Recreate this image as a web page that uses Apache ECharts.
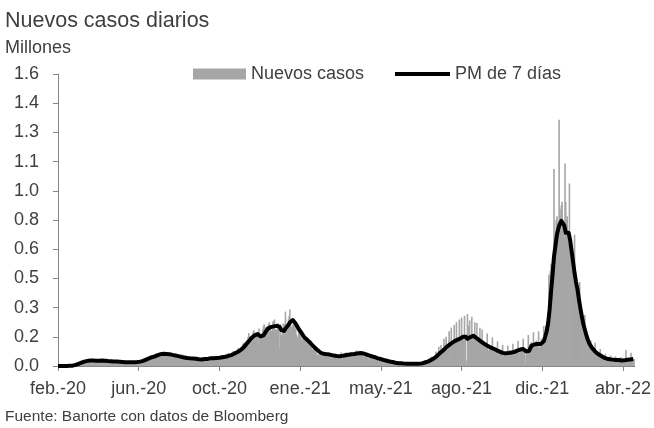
<!DOCTYPE html>
<html><head><meta charset="utf-8">
<script src="https://cdn.jsdelivr.net/npm/echarts@6/dist/echarts.min.js"></script>
<style>html,body{margin:0;padding:0;background:#fff}#c{width:654px;height:428px}</style>
</head><body><div id="c"></div>
<script>
// X axis: day index from 27-feb-2020; labels every 110 days
const tickLabels = ['feb.-20','jun.-20','oct.-20','ene.-21','may.-21','ago.-21','dic.-21','abr.-22'];
const tickDays = [0,110,220,330,440,550,660,770];

// Daily new cases (millions), one value per day, weeks starting Thursday
const dailyNewCases = [
0,0,0,0,0,0,0,
0,0,0,0,0.001,0.001,0.001,
0.001,0.001,0.001,0.002,0.003,0.004,0.006,
0.005,0.007,0.008,0.010,0.011,0.012,0.015,
0.018,0.018,0.020,0.020,0.021,0.025,0.026,
0.028,0.033,0.033,0.027,0.026,0.030,0.030,
0.033,0.033,0.031,0.027,0.026,0.026,0.030,
0.031,0.032,0.031,0.027,0.026,0.027,0.029,
0.032,0.037,0.033,0.027,0.024,0.025,0.028,
0.029,0.033,0.029,0.026,0.023,0.024,0.025,
0.028,0.029,0.026,0.021,0.021,0.023,0.025,
0.027,0.027,0.026,0.020,0.021,0.022,0.024,
0.026,0.024,0.023,0.019,0.018,0.019,0.021,
0.023,0.025,0.023,0.019,0.018,0.020,0.021,
0.022,0.023,0.022,0.018,0.017,0.019,0.022,
0.023,0.025,0.025,0.019,0.018,0.023,0.026,
0.028,0.032,0.033,0.027,0.025,0.029,0.036,
0.040,0.045,0.043,0.038,0.037,0.044,0.052,
0.055,0.054,0.045,0.045,0.047,0.055,0.063,
0.064,0.068,0.066,0.058,0.058,0.063,0.067,
0.075,0.074,0.064,0.061,0.059,0.064,0.070,
0.072,0.075,0.066,0.057,0.055,0.061,0.066,
0.068,0.068,0.060,0.048,0.047,0.052,0.055,
0.058,0.062,0.056,0.047,0.046,0.050,0.053,
0.052,0.065,0.051,0.040,0.037,0.042,0.046,
0.047,0.049,0.045,0.034,0.033,0.039,0.043,
0.046,0.049,0.044,0.035,0.032,0.040,0.038,
0.044,0.050,0.042,0.031,0.024,0.024,0.034,
0.037,0.048,0.041,0.035,0.032,0.035,0.038,
0.045,0.049,0.042,0.036,0.040,0.039,0.042,
0.045,0.055,0.046,0.034,0.035,0.044,0.040,
0.046,0.054,0.049,0.035,0.039,0.043,0.050,
0.058,0.057,0.054,0.047,0.042,0.051,0.058,
0.065,0.070,0.057,0.049,0.059,0.060,0.063,
0.074,0.083,0.081,0.061,0.066,0.074,0.080,
0.090,0.099,0.084,0.080,0.087,0.092,0.105,
0.120,0.128,0.128,0.105,0.118,0.137,0.142,
0.160,0.180,0.162,0.137,0.155,0.158,0.170,
0.185,0.196,0.178,0.141,0.164,0.172,0.182,
0.110,0.205,0.152,0.140,0.158,0.180,0.200,
0.217,0.229,0.215,0.179,0.190,0.214,0.218,
0.228,0.240,0.218,0.188,0.192,0.199,0.245,
0.240,0.255,0.200,0.192,0.200,0.205,0.235,
0.195,0.098,0.230,0.152,0.170,0.199,0.233,
0.230,0.155,0.298,0.208,0.185,0.235,0.256,
0.275,0.310,0.260,0.215,0.215,0.225,0.230,
0.235,0.240,0.200,0.172,0.145,0.160,0.185,
0.195,0.190,0.172,0.135,0.150,0.148,0.155,
0.165,0.165,0.143,0.111,0.133,0.115,0.122,
0.124,0.133,0.104,0.087,0.090,0.093,0.098,
0.103,0.099,0.086,0.064,0.053,0.064,0.069,
0.070,0.079,0.071,0.057,0.056,0.071,0.074,
0.076,0.077,0.064,0.054,0.057,0.056,0.066,
0.066,0.068,0.058,0.042,0.045,0.056,0.058,
0.063,0.064,0.052,0.037,0.046,0.053,0.060,
0.060,0.075,0.056,0.035,0.052,0.055,0.070,
0.068,0.075,0.063,0.040,0.054,0.061,0.070,
0.073,0.076,0.058,0.034,0.078,0.062,0.076,
0.081,0.086,0.062,0.047,0.071,0.069,0.077,
0.075,0.080,0.057,0.041,0.068,0.061,0.065,
0.066,0.071,0.048,0.033,0.054,0.050,0.058,
0.058,0.063,0.040,0.026,0.048,0.044,0.050,
0.047,0.050,0.032,0.020,0.037,0.034,0.040,
0.040,0.039,0.024,0.016,0.028,0.027,0.032,
0.029,0.032,0.018,0.012,0.024,0.022,0.025,
0.017,0.018,0.010,0.008,0.010,0.022,0.022,
0.017,0.018,0.010,0.008,0.024,0.015,0.014,
0.014,0.016,0.008,0.007,0.021,0.013,0.012,
0.013,0.014,0.008,0.006,0.019,0.012,0.011,
0.014,0.015,0.008,0.006,0.020,0.012,0.012,
0.016,0.018,0.009,0.007,0.010,0.022,0.018,
0.016,0.017,0.017,0.018,0.032,0.017,0.017,
0.024,0.027,0.026,0.026,0.051,0.028,0.026,
0.038,0.042,0.040,0.041,0.080,0.044,0.043,
0.060,0.105,0.060,0.062,0.115,0.068,0.072,
0.080,0.150,0.082,0.084,0.160,0.090,0.095,
0.105,0.190,0.105,0.108,0.210,0.112,0.118,
0.122,0.225,0.122,0.125,0.240,0.128,0.132,
0.135,0.255,0.135,0.138,0.265,0.142,0.146,
0.150,0.275,0.150,0.030,0.010,0.285,0.220,
0.140,0.250,0.140,0.145,0.270,0.150,0.155,
0.150,0.240,0.145,0.140,0.235,0.135,0.132,
0.130,0.210,0.125,0.122,0.200,0.116,0.112,
0.122,0.121,0.107,0.100,0.178,0.090,0.080,
0.105,0.105,0.093,0.088,0.157,0.080,0.071,
0.092,0.092,0.081,0.076,0.134,0.068,0.060,
0.079,0.079,0.069,0.065,0.115,0.059,0.053,
0.070,0.071,0.064,0.062,0.112,0.059,0.053,
0.072,0.074,0.068,0.066,0.122,0.063,0.058,
0.079,0.082,0.075,0.074,0.138,0.073,0.067,
0.090,0.093,0.085,0.081,0.149,0.077,0.070,
0.015,0.060,0.070,0.060,0.170,0.115,0.120,
0.110,0.130,0.105,0.100,0.185,0.105,0.095,
0.120,0.140,0.110,0.105,0.190,0.100,0.095,
0.130,0.150,0.115,0.110,0.220,0.150,0.200,
0.220,0.190,0.150,0.200,0.500,0.420,0.520,
0.560,0.480,0.420,0.480,1.080,0.700,0.740,
0.800,0.820,0.730,0.740,1.350,0.860,0.820,
0.880,0.900,0.790,0.760,0.700,1.110,0.900,
0.800,0.820,0.720,0.700,1.000,0.700,0.650,
0.640,0.620,0.570,0.540,0.720,0.500,0.460,
0.450,0.430,0.390,0.360,0.460,0.320,0.290,
0.275,0.260,0.230,0.215,0.280,0.185,0.170,
0.160,0.150,0.135,0.125,0.100,0.140,0.105,
0.098,0.095,0.081,0.074,0.128,0.063,0.054,
0.069,0.067,0.058,0.053,0.093,0.046,0.041,
0.052,0.050,0.042,0.039,0.067,0.034,0.030,
0.039,0.039,0.035,0.033,0.058,0.030,0.027,
0.035,0.035,0.031,0.029,0.053,0.027,0.025,
0.033,0.034,0.029,0.027,0.049,0.025,0.023,
0.030,0.031,0.029,0.029,0.088,0.028,0.026,
0.035,0.036,0.033,0.032,0.072,0.031,0.028,
0.038,0.039
];

// 7-day moving average (millions), one value every 2 days from day 0
const maStepDays = 2;
const movingAverage7d = [
0,0,0,0,0,0,0,0,0.001,0.001,
0.002,0.004,0.006,0.009,0.012,0.015,0.018,0.021,0.024,0.027,
0.028,0.029,0.030,0.030,0.030,0.029,0.029,0.029,0.029,0.030,
0.030,0.030,0.029,0.028,0.027,0.026,0.026,0.025,0.025,0.024,
0.024,0.024,0.023,0.022,0.022,0.022,0.021,0.021,0.021,0.021,
0.021,0.020,0.021,0.021,0.022,0.022,0.024,0.026,0.028,0.031,
0.035,0.038,0.042,0.045,0.048,0.050,0.053,0.057,0.060,0.063,
0.065,0.066,0.067,0.067,0.066,0.066,0.065,0.063,0.061,0.059,
0.058,0.056,0.054,0.052,0.050,0.049,0.047,0.046,0.044,0.043,
0.042,0.042,0.041,0.041,0.040,0.039,0.037,0.036,0.036,0.037,
0.038,0.038,0.039,0.040,0.042,0.043,0.043,0.044,0.044,0.044,
0.045,0.046,0.048,0.050,0.051,0.052,0.055,0.058,0.060,0.063,
0.067,0.071,0.075,0.079,0.085,0.091,0.098,0.107,0.116,0.125,
0.136,0.146,0.155,0.163,0.168,0.172,0.175,0.168,0.162,0.160,
0.168,0.180,0.193,0.205,0.210,0.213,0.215,0.217,0.219,0.220,
0.220,0.214,0.198,0.188,0.192,0.205,0.215,0.225,0.238,0.248,
0.252,0.245,0.232,0.218,0.203,0.192,0.180,0.167,0.156,0.149,
0.142,0.136,0.126,0.116,0.108,0.100,0.093,0.086,0.079,0.073,
0.069,0.068,0.066,0.065,0.064,0.063,0.061,0.059,0.057,0.056,
0.055,0.054,0.054,0.055,0.056,0.057,0.059,0.060,0.062,0.063,
0.064,0.065,0.066,0.068,0.069,0.070,0.071,0.070,0.069,0.067,
0.064,0.061,0.058,0.056,0.053,0.050,0.048,0.045,0.042,0.040,
0.038,0.035,0.033,0.031,0.029,0.027,0.025,0.024,0.022,0.020,
0.018,0.016,0.015,0.015,0.015,0.014,0.013,0.013,0.012,0.012,
0.012,0.012,0.012,0.012,0.013,0.013,0.013,0.013,0.014,0.017,
0.019,0.021,0.024,0.028,0.032,0.035,0.041,0.047,0.053,0.062,
0.069,0.076,0.082,0.090,0.098,0.104,0.112,0.118,0.124,0.130,
0.135,0.139,0.143,0.146,0.150,0.155,0.160,0.162,0.160,0.149,
0.146,0.158,0.166,0.166,0.160,0.154,0.147,0.142,0.136,0.130,
0.125,0.119,0.114,0.109,0.105,0.101,0.098,0.094,0.090,0.086,
0.082,0.079,0.075,0.072,0.070,0.070,0.070,0.071,0.072,0.074,
0.076,0.077,0.080,0.084,0.088,0.090,0.092,0.093,0.093,0.080,
0.072,0.082,0.100,0.113,0.118,0.119,0.120,0.120,0.121,0.121,
0.125,0.135,0.160,0.190,0.235,0.310,0.410,0.500,0.600,0.660,
0.720,0.755,0.780,0.795,0.800,0.770,0.730,0.735,0.730,0.690,
0.630,0.570,0.510,0.460,0.420,0.365,0.315,0.270,0.230,0.200,
0.170,0.145,0.125,0.110,0.098,0.088,0.080,0.072,0.066,0.060,
0.056,0.052,0.046,0.042,0.040,0.038,0.037,0.036,0.035,0.034,
0.033,0.033,0.033,0.031,0.030,0.030,0.031,0.034,0.034,0.035,
0.036,0.037,0.038
];

const FONT = "'Liberation Sans', Arial, sans-serif";
const TXT = '#404040';
const AXIS = '#868686';

const barData = dailyNewCases.map((v, i) => [i, v]);
const lineData = movingAverage7d.map((v, i) => [i * maStepDays, v]);

const chart = echarts.init(document.getElementById('c'), null, {renderer: 'canvas'});
chart.setOption({
  animation: false,
  backgroundColor: '#fff',
  title: [
    {text: 'Nuevos casos diarios', left: 5, top: 10, padding: 0, textStyle: {fontFamily: FONT, fontSize: 21.5, fontWeight: 'normal', color: TXT}},
    {text: 'Millones', left: 5, top: 39, padding: 0, textStyle: {fontFamily: FONT, fontSize: 18, fontWeight: 'normal', color: TXT}},
    {text: 'Fuente: Banorte con datos de Bloomberg', left: 5, top: 409, padding: 0, textStyle: {fontFamily: FONT, fontSize: 15.5, fontWeight: 'normal', color: TXT}}
  ],
  legend: [
    {data: [{name: 'Nuevos casos', icon: 'rect'}], left: 193, top: 65, padding: 0, itemWidth: 53, itemHeight: 11, itemGap: 0,
     textStyle: {fontFamily: FONT, fontSize: 18, color: TXT}},
    {data: [{name: 'PM de 7 días', icon: 'rect'}], left: 395, top: 65, padding: 0, itemWidth: 55, itemHeight: 4, itemGap: 0,
     textStyle: {fontFamily: FONT, fontSize: 18, color: TXT}}
  ],
  grid: {left: 58, right: 18, top: 74, bottom: 62, containLabel: false},
  xAxis: {
    type: 'value', min: 0, max: 786, interval: 110,
    axisLine: {show: true, lineStyle: {color: AXIS, width: 1}},
    axisTick: {show: true, length: 5, customValues: tickDays, lineStyle: {color: AXIS}},
    axisLabel: {customValues: tickDays, margin: 14, fontFamily: FONT, fontSize: 18, color: TXT,
      formatter: v => tickLabels[tickDays.indexOf(Math.round(v))] || ''},
    splitLine: {show: false}
  },
  yAxis: {
    type: 'value', min: 0, max: 1.6, interval: 0.16,
    axisLine: {show: true, lineStyle: {color: AXIS, width: 1}},
    axisTick: {show: true, length: 5, lineStyle: {color: AXIS}},
    axisLabel: {margin: 19, fontFamily: FONT, fontSize: 18, color: TXT, formatter: v => v.toFixed(1)},
    splitLine: {show: false}
  },
  series: [
    {type: 'bar', name: 'Nuevos casos', data: barData, barWidth: 1.6, itemStyle: {color: '#a6a6a6'}, z: 2},
    {type: 'line', name: 'PM de 7 días', data: lineData, symbol: 'none', showSymbol: false,
     lineStyle: {color: '#000', width: 4, join: 'round'}, itemStyle: {color: '#000'}, z: 3}
  ]
});
</script></body></html>
